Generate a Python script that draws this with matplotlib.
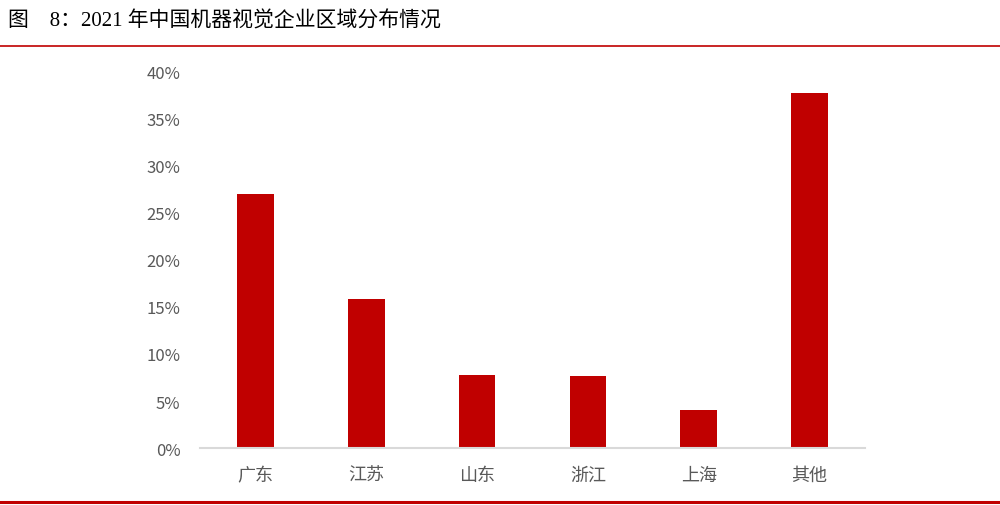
import matplotlib.pyplot as plt
from matplotlib.lines import Line2D
from matplotlib.ticker import PercentFormatter

plt.rcParams['font.family'] = ['Noto Sans CJK SC', 'DejaVu Sans']

# data
regions = ['广东', '江苏', '山东', '浙江', '上海', '其他']
share = [27.0, 15.9, 7.8, 7.7, 4.0, 37.8]
yticks = [0, 5, 10, 15, 20, 25, 30, 35, 40]
title = '图　8：2021 年中国机器视觉企业区域分布情况'

red = '#C00000'

fig = plt.figure(figsize=(10, 5.06), dpi=100)
ax = fig.add_axes([0.2, 0.1126, 0.665, 0.7434])

ax.bar(range(len(regions)), share, width=0.33, color=red)
ax.set_xlim(-0.5, len(regions) - 0.5)
ax.set_ylim(0, 40)
ax.set_yticks(yticks)
ax.yaxis.set_major_formatter(PercentFormatter(decimals=0))
ax.set_xticks(range(len(regions)))
ax.set_xticklabels(regions)

for s in ['top', 'right', 'left']:
    ax.spines[s].set_visible(False)
ax.spines['bottom'].set_color('#D9D9D9')
ax.spines['bottom'].set_linewidth(1.5)
ax.tick_params(axis='both', length=0, colors='#595959')
ax.tick_params(axis='y', labelsize=12, pad=14)
ax.tick_params(axis='x', labelsize=13, pad=13)

# title and rules
fig.text(0.008, 0.958, title, fontsize=15, color='black', va='center',
         family=['Liberation Serif', 'Noto Sans CJK SC'], fontweight='medium')
fig.add_artist(Line2D([0, 1], [1 - 47 / 506] * 2, color=red, lw=1.2))
fig.add_artist(Line2D([0, 1], [1 - 503 / 506] * 2, color=red, lw=2.2))

plt.savefig('out.png', dpi=100)
plt.close()
